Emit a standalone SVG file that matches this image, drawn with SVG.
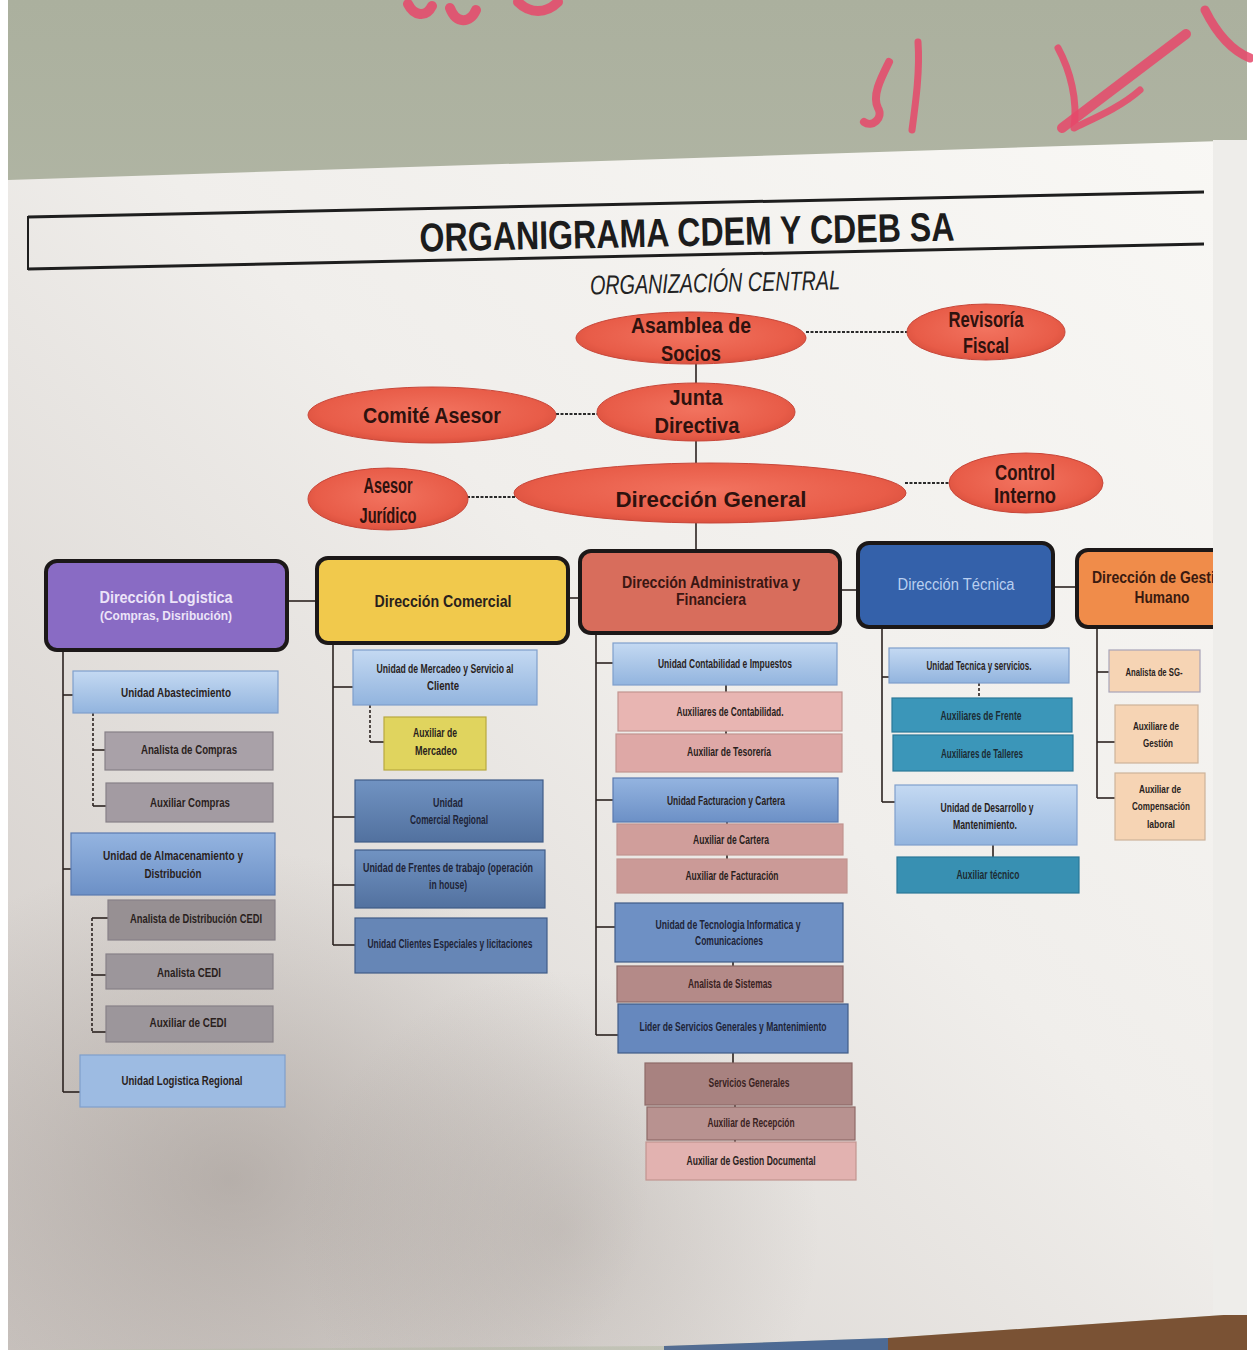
<svg xmlns="http://www.w3.org/2000/svg" width="1253" height="1355" viewBox="0 0 1253 1355">
<defs>
<linearGradient id="wall" x1="0" y1="0" x2="0" y2="1"><stop offset="0" stop-color="#abb09e"/><stop offset="1" stop-color="#cacdbf"/></linearGradient>
<linearGradient id="paper" x1="1" y1="0" x2="0" y2="1"><stop offset="0" stop-color="#f9f8f5"/><stop offset="0.45" stop-color="#f0eeeb"/><stop offset="1" stop-color="#cec8c4"/></linearGradient>
<radialGradient id="shade" cx="0.5" cy="0.5" r="0.5"><stop offset="0" stop-color="#8c827c" stop-opacity="0.45"/><stop offset="1" stop-color="#8c827c" stop-opacity="0"/></radialGradient>
<radialGradient id="ell" cx="0.5" cy="0.45" r="0.6"><stop offset="0" stop-color="#f2735f"/><stop offset="0.75" stop-color="#e85c48"/><stop offset="1" stop-color="#d44c3a"/></radialGradient>
<linearGradient id="g-lb" x1="0" y1="0" x2="0" y2="1"><stop offset="0" stop-color="#c4d9f2"/><stop offset="1" stop-color="#92b4de"/></linearGradient>
<linearGradient id="g-mb" x1="0" y1="0" x2="0" y2="1"><stop offset="0" stop-color="#94b4e0"/><stop offset="1" stop-color="#6c90c6"/></linearGradient>
<linearGradient id="g-db" x1="0" y1="0" x2="0" y2="1"><stop offset="0" stop-color="#7193c2"/><stop offset="1" stop-color="#52719f"/></linearGradient>
<clipPath id="clipR"><rect x="0" y="0" width="1213" height="1355"/></clipPath>
</defs>
<style>
.t{font-family:"Liberation Sans",Arial,sans-serif;font-weight:bold;text-anchor:middle;fill:#2a1f1d}
.s{font-size:12px}
.e{font-size:22px;fill:#2e120e}
.d{font-size:16px}
.lt{fill:#ece4f8}
.tb{fill:#b9cff0;font-weight:normal}
.dk{fill:#1e2438}
.br{fill:#3a2222}
.te{fill:#1c2c34}
.conn line{stroke:#2b2220;stroke-width:1.6}
.conn .dl{stroke-dasharray:3 2}
.conn .ed{stroke:#2a2a2a;stroke-width:2.2;stroke-dasharray:3 1.5}
.el{fill:url(#ell);stroke:#c8473a;stroke-width:1}
.dir{stroke:#1c1818;stroke-width:4}
.u{stroke-width:1.2}
.lb{fill:url(#g-lb);stroke:#7f9fcc}
.mb{fill:url(#g-mb);stroke:#5a7ab0}
.db{fill:url(#g-db);stroke:#405c88}
.gr{fill:#a9a1a8;stroke:#878087}
.pk{fill:#e8b5b2;stroke:#c29490}
.bp{fill:#b48a88;stroke:#8e6a68}
.tl{fill:#3b96b9;stroke:#2a7898}
.pc{fill:#f6d4b4;stroke:#cdb39a}
.ye{fill:#e0d45e;stroke:#b8a840}
.scr{fill:none;stroke:#e6486a;stroke-linecap:round;stroke-linejoin:round;opacity:0.85}
</style>

<g id="background">
<rect x="0" y="0" width="1253" height="1355" fill="url(#wall)"/>
<polygon points="8,180 1253,140 1253,1313 888,1338 664,1346 8,1350" fill="url(#paper)"/>
<polygon points="664,1346 888,1338 888,1355 664,1355" fill="#4d6a94"/>
<polygon points="888,1338 1253,1313 1253,1355 888,1355" fill="#7a5234"/>
<ellipse cx="230" cy="1180" rx="420" ry="330" fill="url(#shade)"/>
<ellipse cx="560" cy="1230" rx="260" ry="260" fill="url(#shade)" opacity="0.6"/>
<rect x="1213" y="140" width="34" height="1175" fill="#eeedea"/>
<rect x="0" y="0" width="8" height="1355" fill="#ffffff"/>
<rect x="0" y="1350" width="1253" height="5" fill="#ffffff"/>
<rect x="1247" y="0" width="6" height="1355" fill="#ffffff"/>
<path class="scr" stroke-width="10" d="M408,4 C414,16 426,18 432,6 M450,8 C456,24 470,24 476,10 M518,2 C530,14 546,14 558,2"/>
<path class="scr" stroke-width="8" d="M889,62 C880,80 872,96 878,108 C884,118 872,128 864,122"/>
<path class="scr" stroke-width="7" d="M918,42 C920,70 916,100 912,130"/>
<path class="scr" stroke-width="10" d="M1062,128 L1186,34"/>
<path class="scr" stroke-width="7" d="M1058,48 C1070,70 1078,100 1074,128 C1090,120 1120,108 1140,90"/>
<path class="scr" stroke-width="9" d="M1205,10 C1215,30 1230,50 1250,58"/>
</g>

<g id="title">
<line x1="28" y1="217" x2="1204" y2="192" stroke="#1e1e1e" stroke-width="3"/>
<line x1="28" y1="269" x2="1204" y2="244" stroke="#1e1e1e" stroke-width="3"/>
<line x1="28" y1="216" x2="28" y2="270" stroke="#1e1e1e" stroke-width="2"/>
<text class="t" x="687" y="246" font-size="40" textLength="535" lengthAdjust="spacingAndGlyphs" style="fill:#1c1c1c" transform="rotate(-1.2 687 232)">ORGANIGRAMA CDEM Y CDEB SA</text>
<text class="t" x="715" y="292" font-size="27" font-style="italic" textLength="250" lengthAdjust="spacingAndGlyphs" style="fill:#222;font-weight:normal" transform="rotate(-1.2 715 282)">ORGANIZACIÓN CENTRAL</text>
</g>

<g class="conn" id="connectors">
<line class="ed" x1="806" y1="332" x2="908" y2="332"/>
<line class="ed" x1="556" y1="414" x2="598" y2="414"/>
<line class="ed" x1="467" y1="497" x2="515" y2="497"/>
<line class="ed" x1="905" y1="483" x2="949" y2="483"/>
<line x1="696" y1="363" x2="696" y2="383"/>
<line x1="696" y1="441" x2="696" y2="463"/>
<line x1="696" y1="523" x2="696" y2="550"/>
<line x1="287" y1="601" x2="317" y2="601"/>
<line x1="568" y1="598" x2="580" y2="598"/>
<line x1="840" y1="590" x2="858" y2="590"/>
<line x1="1053" y1="587" x2="1077" y2="587"/>
<line x1="63" y1="650" x2="63" y2="1092"/>
<line x1="63" y1="695" x2="73" y2="695"/>
<line x1="63" y1="869" x2="71" y2="869"/>
<line x1="63" y1="1092" x2="80" y2="1092"/>
<line class="dl" x1="93" y1="713" x2="93" y2="806"/>
<line x1="93" y1="750" x2="105" y2="750"/>
<line x1="93" y1="806" x2="106" y2="806"/>
<line class="dl" x1="92" y1="918" x2="92" y2="1032"/>
<line x1="92" y1="918" x2="108" y2="918"/>
<line x1="92" y1="975" x2="106" y2="975"/>
<line x1="92" y1="1032" x2="106" y2="1032"/>
<line x1="333" y1="643" x2="333" y2="945"/>
<line x1="333" y1="687" x2="353" y2="687"/>
<line x1="333" y1="817" x2="355" y2="817"/>
<line x1="333" y1="885" x2="355" y2="885"/>
<line x1="333" y1="945" x2="355" y2="945"/>
<line class="dl" x1="370" y1="705" x2="370" y2="742"/>
<line x1="370" y1="742" x2="384" y2="742"/>
<line x1="596" y1="633" x2="596" y2="1035"/>
<line x1="596" y1="663" x2="613" y2="663"/>
<line x1="596" y1="800" x2="613" y2="800"/>
<line x1="596" y1="927" x2="615" y2="927"/>
<line x1="596" y1="1035" x2="618" y2="1035"/>
<line x1="726" y1="685" x2="726" y2="692"/>
<line x1="726" y1="731" x2="726" y2="734"/>
<line x1="727" y1="822" x2="727" y2="824"/>
<line x1="727" y1="855" x2="727" y2="859"/>
<line x1="733" y1="962" x2="733" y2="966"/>
<line x1="733" y1="1053" x2="733" y2="1063"/>
<line x1="735" y1="1105" x2="735" y2="1107"/>
<line x1="735" y1="1140" x2="735" y2="1142"/>
<line x1="882" y1="627" x2="882" y2="802"/>
<line x1="882" y1="677" x2="889" y2="677"/>
<line x1="882" y1="802" x2="895" y2="802"/>
<line class="dl" x1="979" y1="683" x2="979" y2="698"/>
<line x1="993" y1="845" x2="993" y2="857"/>
<line x1="1097" y1="627" x2="1097" y2="798"/>
<line x1="1097" y1="672" x2="1109" y2="672"/>
<line x1="1097" y1="742" x2="1115" y2="742"/>
<line x1="1097" y1="798" x2="1115" y2="798"/>
</g>

<g id="asamblea"><ellipse class="el" cx="691" cy="338" rx="115" ry="26"/>
<text class="t e" x="691" y="333" textLength="120" lengthAdjust="spacingAndGlyphs">Asamblea de</text>
<text class="t e" x="691" y="361" textLength="60" lengthAdjust="spacingAndGlyphs">Socios</text></g>
<g id="revisoria"><ellipse class="el" cx="986" cy="332" rx="79" ry="28"/>
<text class="t e" x="986" y="327" font-size="20" textLength="75" lengthAdjust="spacingAndGlyphs">Revisoría</text>
<text class="t e" x="986" y="353" font-size="20" textLength="46" lengthAdjust="spacingAndGlyphs">Fiscal</text></g>
<g id="junta"><ellipse class="el" cx="696" cy="412" rx="99" ry="29"/>
<text class="t e" x="696" y="405" textLength="53" lengthAdjust="spacingAndGlyphs">Junta</text>
<text class="t e" x="697" y="433" textLength="85" lengthAdjust="spacingAndGlyphs">Directiva</text></g>
<g id="comite"><ellipse class="el" cx="432" cy="415" rx="124" ry="28"/>
<text class="t e" x="432" y="423" font-size="24" textLength="138" lengthAdjust="spacingAndGlyphs">Comité Asesor</text></g>
<g id="direccion-general"><ellipse class="el" cx="710" cy="493" rx="196" ry="30"/>
<text class="t e" x="711" y="507" font-size="29" textLength="191" lengthAdjust="spacingAndGlyphs">Dirección General</text></g>
<g id="asesor-juridico"><ellipse class="el" cx="388" cy="499" rx="80" ry="31"/>
<text class="t e" x="388" y="493" font-size="20" textLength="49" lengthAdjust="spacingAndGlyphs">Asesor</text>
<text class="t e" x="388" y="523" font-size="20" textLength="57" lengthAdjust="spacingAndGlyphs">Jurídico</text></g>
<g id="control-interno"><ellipse class="el" cx="1026" cy="483" rx="77" ry="30"/>
<text class="t e" x="1025" y="480" font-size="20" textLength="60" lengthAdjust="spacingAndGlyphs">Control</text>
<text class="t e" x="1025" y="503" font-size="20" textLength="62" lengthAdjust="spacingAndGlyphs">Interno</text></g>

<g id="dir-logistica"><rect class="dir" x="46" y="561" width="241" height="89" rx="11" fill="#896bc4"/>
<text class="t d lt" x="166" y="603" textLength="133" lengthAdjust="spacingAndGlyphs">Dirección Logistica</text>
<text class="t lt" x="166" y="620" font-size="13" textLength="132" lengthAdjust="spacingAndGlyphs">(Compras, Disribución)</text></g>
<g id="dir-comercial"><rect class="dir" x="317" y="558" width="251" height="85" rx="11" fill="#f1c94c"/>
<text class="t d" x="443" y="607" font-size="17" textLength="137" lengthAdjust="spacingAndGlyphs">Dirección Comercial</text></g>
<g id="dir-administrativa"><rect class="dir" x="580" y="551" width="260" height="82" rx="11" fill="#d86d5c"/>
<text class="t d" x="711" y="588" textLength="178" lengthAdjust="spacingAndGlyphs" style="fill:#3a1612">Dirección Administrativa y</text>
<text class="t d" x="711" y="605" textLength="70" lengthAdjust="spacingAndGlyphs" style="fill:#3a1612">Financiera</text></g>
<g id="dir-tecnica"><rect class="dir" x="858" y="543" width="195" height="84" rx="11" fill="#3461aa"/>
<text class="t d tb" x="956" y="590" textLength="117" lengthAdjust="spacingAndGlyphs">Dirección Técnica</text></g>
<g id="dir-gestion-humano" clip-path="url(#clipR)"><rect class="dir" x="1077" y="550" width="170" height="77" rx="11" fill="#f08c4a"/>
<text class="t d" x="1162" y="583" textLength="140" lengthAdjust="spacingAndGlyphs" style="fill:#3a1a10">Dirección de Gestión</text>
<text class="t d" x="1162" y="603" textLength="55" lengthAdjust="spacingAndGlyphs" style="fill:#3a1a10">Humano</text></g>

<g id="u-abastecimiento"><rect class="u lb" x="73" y="671" width="205" height="42"/>
<text class="t s" x="176" y="697" textLength="110" lengthAdjust="spacingAndGlyphs">Unidad Abastecimiento</text></g>
<g id="analista-compras"><rect class="u gr" x="105" y="732" width="168" height="38"/>
<text class="t s" x="189" y="754" textLength="96" lengthAdjust="spacingAndGlyphs">Analista de Compras</text></g>
<g id="auxiliar-compras"><rect class="u gr" x="106" y="783" width="167" height="39" style="fill:#a39ba2"/>
<text class="t s" x="190" y="807" textLength="80" lengthAdjust="spacingAndGlyphs">Auxiliar Compras</text></g>
<g id="u-almacenamiento"><rect class="u mb" x="71" y="833" width="204" height="62"/>
<text class="t s" x="173" y="860" textLength="140" lengthAdjust="spacingAndGlyphs">Unidad de Almacenamiento y</text>
<text class="t s" x="173" y="878" textLength="57" lengthAdjust="spacingAndGlyphs">Distribución</text></g>
<g id="analista-distribucion"><rect class="u gr" x="108" y="900" width="167" height="40" style="fill:#979093"/>
<text class="t s" x="196" y="923" textLength="132" lengthAdjust="spacingAndGlyphs">Analista de Distribución CEDI</text></g>
<g id="analista-cedi"><rect class="u gr" x="106" y="954" width="167" height="35" style="fill:#9c969b"/>
<text class="t s" x="189" y="977" textLength="64" lengthAdjust="spacingAndGlyphs">Analista CEDI</text></g>
<g id="auxiliar-cedi"><rect class="u gr" x="106" y="1006" width="167" height="36" style="fill:#9c969b"/>
<text class="t s" x="188" y="1027" textLength="77" lengthAdjust="spacingAndGlyphs">Auxiliar de  CEDI</text></g>
<g id="u-logistica-regional"><rect class="u lb" x="80" y="1055" width="205" height="52" style="fill:#9dbbe2"/>
<text class="t s" x="182" y="1085" textLength="121" lengthAdjust="spacingAndGlyphs">Unidad Logistica Regional</text></g>

<g id="u-mercadeo"><rect class="u lb" x="353" y="650" width="184" height="55"/>
<text class="t s" x="445" y="673" textLength="137" lengthAdjust="spacingAndGlyphs">Unidad de Mercadeo y Servicio al</text>
<text class="t s" x="443" y="690" textLength="32" lengthAdjust="spacingAndGlyphs">Cliente</text></g>
<g id="auxiliar-mercadeo"><rect class="u ye" x="384" y="717" width="102" height="53"/>
<text class="t s" x="435" y="737" textLength="44" lengthAdjust="spacingAndGlyphs">Auxiliar de</text>
<text class="t s" x="436" y="755" textLength="42" lengthAdjust="spacingAndGlyphs">Mercadeo</text></g>
<g id="u-comercial-regional"><rect class="u db" x="355" y="780" width="188" height="62"/>
<text class="t s dk" x="448" y="807" textLength="30" lengthAdjust="spacingAndGlyphs">Unidad</text>
<text class="t s dk" x="449" y="824" textLength="78" lengthAdjust="spacingAndGlyphs">Comercial Regional</text></g>
<g id="u-frentes"><rect class="u db" x="355" y="850" width="190" height="58"/>
<text class="t s dk" x="448" y="872" textLength="170" lengthAdjust="spacingAndGlyphs">Unidad de Frentes de trabajo (operación</text>
<text class="t s dk" x="448" y="889" textLength="38" lengthAdjust="spacingAndGlyphs">in house)</text></g>
<g id="u-clientes-especiales"><rect class="u db" x="355" y="918" width="192" height="55" style="fill:#6686b6"/>
<text class="t s dk" x="450" y="948" textLength="165" lengthAdjust="spacingAndGlyphs">Unidad Clientes Especiales y licitaciones</text></g>

<g id="u-contabilidad"><rect class="u lb" x="613" y="643" width="224" height="42"/>
<text class="t s" x="725" y="668" textLength="134" lengthAdjust="spacingAndGlyphs">Unidad Contabilidad e Impuestos</text></g>
<g id="auxiliares-contabilidad"><rect class="u pk" x="618" y="692" width="224" height="39"/>
<text class="t s" x="730" y="716" textLength="107" lengthAdjust="spacingAndGlyphs">Auxiliares de Contabilidad.</text></g>
<g id="auxiliar-tesoreria"><rect class="u pk" x="616" y="734" width="226" height="38" style="fill:#dea8a6"/>
<text class="t s" x="729" y="756" textLength="84" lengthAdjust="spacingAndGlyphs">Auxiliar de Tesorería</text></g>
<g id="u-facturacion-cartera"><rect class="u mb" x="613" y="778" width="225" height="44"/>
<text class="t s" x="726" y="805" textLength="118" lengthAdjust="spacingAndGlyphs">Unidad Facturacion y Cartera</text></g>
<g id="auxiliar-cartera"><rect class="u pk" x="617" y="824" width="226" height="31" style="fill:#d09e9b"/>
<text class="t s" x="731" y="844" textLength="76" lengthAdjust="spacingAndGlyphs">Auxiliar de Cartera</text></g>
<g id="auxiliar-facturacion"><rect class="u pk" x="617" y="859" width="230" height="34" style="fill:#cb9a97"/>
<text class="t s" x="732" y="880" textLength="93" lengthAdjust="spacingAndGlyphs">Auxiliar de Facturación</text></g>
<g id="u-tecnologia"><rect class="u db" x="615" y="903" width="228" height="59" style="fill:#6e90c4"/>
<text class="t s dk" x="728" y="929" textLength="145" lengthAdjust="spacingAndGlyphs">Unidad de Tecnologia Informatica y</text>
<text class="t s dk" x="729" y="945" textLength="68" lengthAdjust="spacingAndGlyphs">Comunicaciones</text></g>
<g id="analista-sistemas"><rect class="u bp" x="617" y="966" width="226" height="36"/>
<text class="t s br" x="730" y="988" textLength="84" lengthAdjust="spacingAndGlyphs">Analista de Sistemas</text></g>
<g id="lider-servicios"><rect class="u db" x="618" y="1004" width="230" height="49" style="fill:#6688be"/>
<text class="t s dk" x="733" y="1031" textLength="187" lengthAdjust="spacingAndGlyphs">Lider de Servicios Generales y Mantenimiento</text></g>
<g id="servicios-generales"><rect class="u bp" x="645" y="1063" width="207" height="42" style="fill:#a88280"/>
<text class="t s br" x="749" y="1087" textLength="81" lengthAdjust="spacingAndGlyphs">Servicios Generales</text></g>
<g id="auxiliar-recepcion"><rect class="u bp" x="647" y="1107" width="208" height="33" style="fill:#b89290"/>
<text class="t s br" x="751" y="1127" textLength="87" lengthAdjust="spacingAndGlyphs">Auxiliar de Recepción</text></g>
<g id="auxiliar-gestion-documental"><rect class="u pk" x="646" y="1142" width="210" height="38" style="fill:#e2b2b0"/>
<text class="t s" x="751" y="1165" textLength="129" lengthAdjust="spacingAndGlyphs">Auxiliar de Gestion Documental</text></g>

<g id="u-tecnica-servicios"><rect class="u lb" x="889" y="648" width="180" height="35"/>
<text class="t s" x="979" y="670" textLength="105" lengthAdjust="spacingAndGlyphs">Unidad Tecnica y servicios.</text></g>
<g id="auxiliares-frente"><rect class="u tl" x="892" y="698" width="180" height="34"/>
<text class="t s te" x="981" y="720" textLength="81" lengthAdjust="spacingAndGlyphs">Auxiliares de Frente</text></g>
<g id="auxiliares-talleres"><rect class="u tl" x="893" y="735" width="180" height="36"/>
<text class="t s te" x="982" y="758" textLength="82" lengthAdjust="spacingAndGlyphs">Auxiliares de Talleres</text></g>
<g id="u-desarrollo"><rect class="u lb" x="895" y="785" width="182" height="60"/>
<text class="t s" x="987" y="812" textLength="93" lengthAdjust="spacingAndGlyphs">Unidad de Desarrollo y</text>
<text class="t s" x="985" y="829" textLength="64" lengthAdjust="spacingAndGlyphs">Mantenimiento.</text></g>
<g id="auxiliar-tecnico"><rect class="u tl" x="897" y="857" width="182" height="36" style="fill:#3890b2"/>
<text class="t s te" x="988" y="879" textLength="63" lengthAdjust="spacingAndGlyphs">Auxiliar técnico</text></g>

<g id="analista-sg"><rect class="u pc" x="1109" y="650" width="91" height="42" style="stroke:#a8a4b8"/>
<text class="t" x="1154" y="676" font-size="11" textLength="57" lengthAdjust="spacingAndGlyphs">Analista de SG-</text></g>
<g id="auxiliare-gestion"><rect class="u pc" x="1115" y="705" width="83" height="58"/>
<text class="t" x="1156" y="730" font-size="11" textLength="46" lengthAdjust="spacingAndGlyphs">Auxiliare de</text>
<text class="t" x="1158" y="747" font-size="11" textLength="30" lengthAdjust="spacingAndGlyphs">Gestión</text></g>
<g id="auxiliar-compensacion"><rect class="u pc" x="1115" y="773" width="90" height="67"/>
<text class="t" x="1160" y="793" font-size="11" textLength="42" lengthAdjust="spacingAndGlyphs">Auxiliar de</text>
<text class="t" x="1161" y="810" font-size="11" textLength="58" lengthAdjust="spacingAndGlyphs">Compensación</text>
<text class="t" x="1161" y="828" font-size="11" textLength="28" lengthAdjust="spacingAndGlyphs">laboral</text></g>
</svg>
